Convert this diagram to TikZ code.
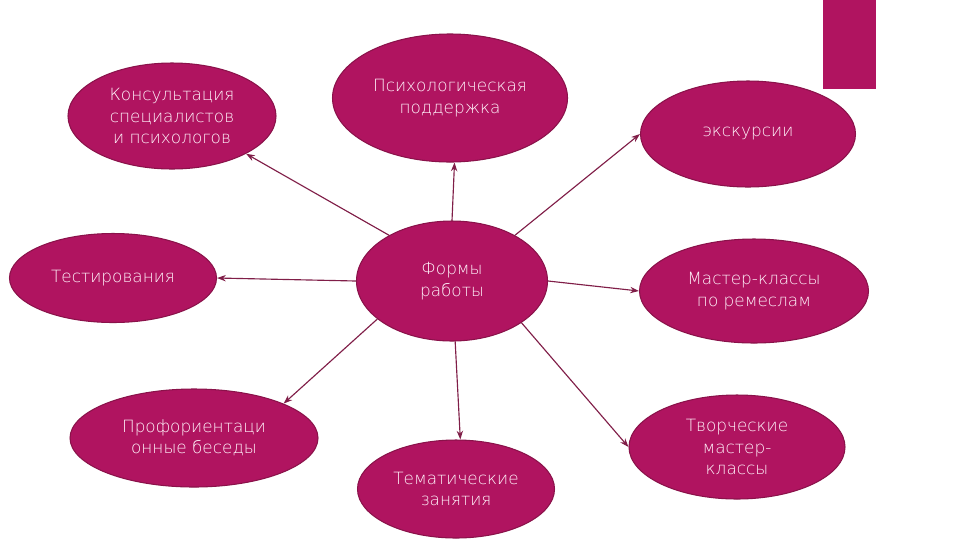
\documentclass[tikz,border=0pt]{standalone}
\usepackage{fontspec}
\setmainfont{DejaVu Sans}[UprightFont={* ExtraLight}]
\usetikzlibrary{shapes.geometric,arrows.meta}

\definecolor{plum}{RGB}{176,20,96}
\definecolor{plumedge}{RGB}{138,18,74}
\definecolor{wire}{RGB}{128,30,72}
\definecolor{blush}{RGB}{255,242,249}

\begin{document}
\begin{tikzpicture}[
  x=0.2mm,
  y=-0.2mm,
  line cap=round
]

  \def\px{0.2mm}

  % styles for the ovals and the links
  \tikzset{
    blob/.style={ellipse, fill=plum, draw=plumedge, line width=0.6pt,
      text=blush, align=center, inner sep=0pt,
      font=\fontsize{9.6}{12.2}\selectfont},
    link/.style={draw=wire, line width=0.65pt,
      -{Stealth[length=5pt,width=3.6pt]}}
  }

  \useasboundingbox (0,0) rectangle (960,540);

  % corner mark
  \fill[plum] (823,0) rectangle (876,89);

  % centre
  \node[blob, minimum width=191*\px, minimum height=120*\px]
    (forms) at (452,281) {Формы\\работы};

  % left column
  \node[blob, minimum width=208*\px, minimum height=106*\px]
    (consult) at (172,116) {Консультация\\специалистов\\и психологов};
  \node[blob, minimum width=207*\px, minimum height=89*\px]
    (tests) at (113,278) {Тестирования};
  \node[blob, minimum width=248*\px, minimum height=98*\px]
    (career) at (194,438) {Профориентаци\\онные беседы};

  % middle column
  \node[blob, minimum width=235*\px, minimum height=128*\px]
    (support) at (450,98) {Психологическая\\поддержка};
  \node[blob, minimum width=197*\px, minimum height=98*\px]
    (topics) at (456,489) {Тематические\\занятия};

  % right column
  \node[blob, minimum width=215*\px, minimum height=106*\px]
    (trips) at (748,134) {экскурсии};
  \node[blob, minimum width=229*\px, minimum height=104*\px]
    (crafts) at (754,291) {Мастер-классы\\по ремеслам};
  \node[blob, minimum width=216*\px, minimum height=104*\px]
    (creative) at (737,447) {Творческие\\мастер-\\классы};

  % links out of the centre
  \foreach \a/\b/\c in {144/consult/-27, 90/support/-86, 36/trips/180,
      180/tests/0, 0/crafts/180, 207/career/21, -87/topics/85,
      -31/creative/180} {
    \draw[link] (forms.\a) -- (\b.\c);
  }

\end{tikzpicture}
\end{document}
